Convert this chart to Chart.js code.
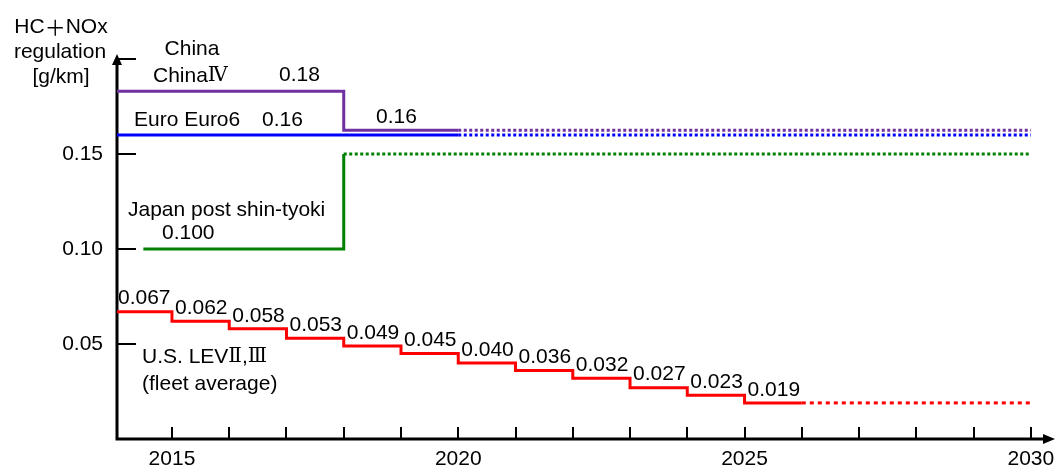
<!DOCTYPE html>
<html>
<head>
<meta charset="utf-8">
<script src="https://cdn.jsdelivr.net/npm/chart.js@4/dist/chart.umd.min.js"></script>
<style>
  html, body { margin: 0; padding: 0; background: #fff; }
  #wrap { width: 1059px; height: 466px; }
</style>
</head>
<body>
<div id="wrap"><canvas id="chart"></canvas></div>
<script>
const FONT = "'Liberation Sans', Arial, sans-serif";
const CJK = "'Noto Sans CJK JP', sans-serif";
const ROMAN = "'DejaVu Serif', 'Noto Sans CJK JP', serif";

// U.S. LEV II / III fleet average, one step per model year
const usYears = [2014, 2015, 2016, 2017, 2018, 2019, 2020, 2021, 2022, 2023, 2024, 2025];
const usLimits = [0.067, 0.062, 0.058, 0.053, 0.049, 0.045, 0.040, 0.036, 0.032, 0.027, 0.023, 0.019];
const usSolidEnd = 2026;

// China IV -> China 6 (drawn a bit off 0.18 / 0.16 so it clears the Euro line)
const chinaYears = [2014, 2018, 2020];
const chinaLevels = [0.183, 0.1625, 0.1625];

// Euro 6
const euroYears = [2014, 2020];
const euroLevels = [0.16, 0.16];

// Japan post shin-tyoki, then 0.15
const japanYears = [2014.5, 2018];
const japanLevels = [0.10, 0.15];

const projectionEnd = 2030;

const yTickValues = [0.05, 0.10, 0.15, 0.20];
const xLabelYears = [2015, 2020, 2025, 2030];

const pts = (xs, ys) => xs.map((x, i) => ({ x: x, y: ys[i] }));
const last = a => a[a.length - 1];

const usSolid = pts(usYears, usLimits).concat([{ x: usSolidEnd, y: last(usLimits) }]);

function solid(data, color) {
  return { data: data, borderColor: color, borderWidth: 3, stepped: true, pointRadius: 0, fill: false };
}
function dotted(from, y, color, dash) {
  return { data: [{ x: from, y: y }, { x: projectionEnd, y: y }], borderColor: color, borderWidth: 3,
           borderDash: dash, pointRadius: 0, fill: false, borderCapStyle: 'butt' };
}

const RED = '#ff0000', BLUE = '#0000ff', PURPLE = '#7030a0', GREEN = '#008000';

// axes with arrows and inside tick marks
const axesPlugin = {
  id: 'axes',
  beforeDatasetsDraw(chart) {
    const { ctx, chartArea: a, scales: { x, y } } = chart;
    ctx.save();
    ctx.strokeStyle = '#000';
    ctx.fillStyle = '#000';
    ctx.lineWidth = 3;
    ctx.beginPath();
    ctx.moveTo(a.left, a.bottom + 1.5);
    ctx.lineTo(a.left, a.top);
    ctx.moveTo(a.left - 1.5, a.bottom);
    ctx.lineTo(a.right, a.bottom);
    ctx.stroke();
    // arrow heads
    ctx.beginPath();
    ctx.moveTo(a.left, a.top - 5);
    ctx.lineTo(a.left - 5, a.top + 6);
    ctx.lineTo(a.left + 5, a.top + 6);
    ctx.closePath();
    ctx.fill();
    ctx.beginPath();
    ctx.moveTo(a.right + 7, a.bottom);
    ctx.lineTo(a.right - 5, a.bottom - 5);
    ctx.lineTo(a.right - 5, a.bottom + 5);
    ctx.closePath();
    ctx.fill();
    // tick marks
    ctx.lineWidth = 2;
    ctx.beginPath();
    yTickValues.forEach(v => {
      const py = Math.round(y.getPixelForValue(v));
      ctx.moveTo(a.left, py);
      ctx.lineTo(a.left + 19, py);
    });
    for (let yr = 2015; yr <= projectionEnd; yr++) {
      const px = Math.round(x.getPixelForValue(yr));
      ctx.moveTo(px, a.bottom);
      ctx.lineTo(px, a.bottom - 12);
    }
    ctx.stroke();
    ctx.restore();
  }
};

// draw a line of text made of runs in different fonts
function runs(ctx, parts, x, y, align) {
  let w = 0;
  parts.forEach(p => { ctx.font = p[1]; w += ctx.measureText(p[0]).width; });
  let cx = align === 'center' ? x - w / 2 : x;
  ctx.textAlign = 'left';
  parts.forEach(p => {
    ctx.font = p[1];
    ctx.fillText(p[0], cx, y);
    cx += ctx.measureText(p[0]).width;
  });
}

// text annotations
const textPlugin = {
  id: 'texts',
  afterDatasetsDraw(chart) {
    const { ctx, scales: { x, y }, chartArea: a } = chart;
    const F = '21px ' + FONT;
    ctx.save();
    ctx.fillStyle = '#000';
    ctx.textBaseline = 'middle';

    runs(ctx, [['HC', F], ['＋', '21px ' + CJK], ['NOx', F]], 61, 27, 'center');
    runs(ctx, [['regulation', F]], 60, 52, 'center');
    runs(ctx, [['[g/km]', F]], 61, 77, 'center');
    runs(ctx, [['China', F]], 192, 49, 'center');
    runs(ctx, [['China', F], ['Ⅳ', '20px ' + ROMAN]], 153, 76, 'left');
    runs(ctx, [['0.18', F]], 279, 75, 'left');
    runs(ctx, [['Euro Euro6', F]], 134, 120, 'left');
    runs(ctx, [['0.16', F]], 262, 120, 'left');
    runs(ctx, [['0.16', F]], 376, 117, 'left');
    runs(ctx, [['Japan post shin-tyoki', F]], 128, 210, 'left');
    runs(ctx, [['0.100', F]], 162, 233, 'left');
    runs(ctx, [['U.S. LEV', F], ['Ⅱ', '20px ' + ROMAN], [',', F], ['Ⅲ', '20px ' + ROMAN]], 142, 357, 'left');
    runs(ctx, [['(fleet average)', F]], 142, 384, 'left');

    // value over each U.S. step
    usYears.forEach((yr, i) => {
      const px = Math.max(x.getPixelForValue(yr) + 3, a.left + 1);
      runs(ctx, [[usLimits[i].toFixed(3), F]], px, y.getPixelForValue(usLimits[i]) - 13, 'left');
    });
    ctx.restore();
  }
};

new Chart(document.getElementById('chart'), {
  type: 'line',
  data: {
    datasets: [
      solid(pts(chinaYears, chinaLevels), PURPLE),
      dotted(last(chinaYears), last(chinaLevels), PURPLE, [3, 2.5]),
      solid(pts(euroYears, euroLevels), BLUE),
      dotted(last(euroYears), last(euroLevels), BLUE, [3, 2.5]),
      solid(pts(japanYears, japanLevels), GREEN),
      dotted(last(japanYears), last(japanLevels), GREEN, [3, 2.5]),
      solid(usSolid, RED),
      dotted(usSolidEnd, last(usLimits), RED, [4, 4])
    ]
  },
  options: {
    responsive: true,
    maintainAspectRatio: false,
    animation: false,
    layout: { padding: { top: 59, right: 11, left: 0, bottom: 0 } },
    plugins: { legend: { display: false }, tooltip: { enabled: false } },
    scales: {
      x: {
        type: 'linear',
        min: 2014.04,
        max: 2030.3,
        grid: { display: false },
        border: { display: false },
        ticks: {
          stepSize: 1,
          includeBounds: false,
          autoSkip: false,
          maxRotation: 0,
          padding: 0,
          color: '#000',
          font: { family: FONT, size: 21 },
          callback: v => xLabelYears.includes(v) ? String(v) : ''
        },
        afterFit: s => { s.height = 27; }
      },
      y: {
        min: 0,
        max: 0.2,
        grid: { display: false },
        border: { display: false },
        ticks: {
          stepSize: 0.05,
          padding: 6,
          color: '#000',
          font: { family: FONT, size: 21 },
          callback: v => (v > 0.01 && v < 0.19) ? v.toFixed(2) : ''
        },
        afterFit: s => { s.width = 117; }
      }
    }
  },
  plugins: [axesPlugin, textPlugin]
});
</script>
</body>
</html>
